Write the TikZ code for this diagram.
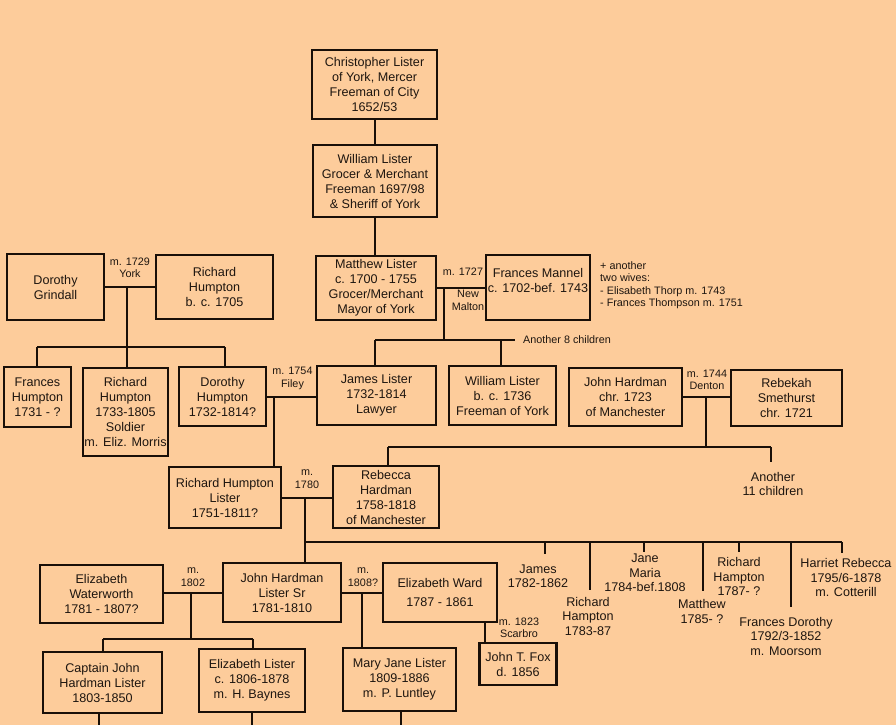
\documentclass[tikz,border=0pt]{standalone}
\usepackage{fontspec}
\setmainfont{Liberation Sans}
\definecolor{bg}{RGB}{253,204,155}
\definecolor{lc}{RGB}{25,15,8}
\definecolor{txt}{RGB}{30,22,16}
\begin{document}
\begin{tikzpicture}[x=1pt,y=-1pt,
  box/.style={draw=lc, line width=2.3pt, fill=bg, inner sep=1pt, align=center,
              font=\fontsize{12.6}{15}\selectfont, text=txt},
  lbl/.style={inner sep=0pt, align=center, font=\fontsize{10.8}{12.5}\selectfont, text=txt},
  ctxt/.style={inner sep=0pt, align=center, font=\fontsize{12.6}{14.5}\selectfont, text=txt},
  ln/.style={draw=lc, line width=2pt},
]
\fill[bg] (0,0) rectangle (896,725);
\useasboundingbox (0,0) rectangle (896,725);

% ---------- boxes ----------
\node[box, minimum width=125pt, minimum height=69pt] (chris) at (374.5,84.5)
  {Christopher Lister\\of York, Mercer\\Freeman of City\\1652/53};
\node[box, minimum width=124pt, minimum height=72pt] (will) at (375,181)
  {William Lister\\Grocer \& Merchant\\Freeman 1697/98\\\& Sheriff of York};
\node[box, minimum width=120pt, minimum height=64pt] (matt) at (376,288)
  {Matthew Lister\\c. 1700 - 1755\\Grocer/Merchant\\Mayor of York};
\node[box, minimum width=104pt, minimum height=65pt] (fran) at (538,287.5)
  {Frances Mannel\\c. 1702-bef. 1743\\\mbox{}};
\node[box, minimum width=97pt, minimum height=66pt] (dgrin) at (55.5,287)
  {Dorothy\\Grindall};
\node[box, minimum width=117pt, minimum height=64pt] (rhump) at (214.5,287)
  {Richard\\Humpton\\b. c. 1705};
\node[box, minimum width=67pt, minimum height=60pt] (fhump) at (37.5,397)
  {Frances\\Humpton\\1731 - ?};
\node[box, minimum width=85pt, minimum height=88pt, inner sep=0pt] (rh1733) at (125.5,412)
  {Richard\\Humpton\\1733-1805\\Soldier\\m. Eliz. Morris};
\node[box, minimum width=87pt, minimum height=59pt] (dhump) at (222.5,396.5)
  {Dorothy\\Humpton\\1732-1814?};
\node[box, minimum width=119pt, minimum height=59pt] (james) at (376.5,395.5)
  {James Lister\\1732-1814\\Lawyer};
\node[box, minimum width=107pt, minimum height=59pt] (wl1736) at (502.5,395.5)
  {William Lister\\b. c. 1736\\Freeman of York};
\node[box, minimum width=113pt, minimum height=58pt] (jhard) at (625.5,397)
  {John Hardman\\chr. 1723\\of Manchester};
\node[box, minimum width=111pt, minimum height=56pt] (rebekah) at (786.5,398)
  {Rebekah\\Smethurst\\chr. 1721};
\node[box, minimum width=112pt, minimum height=61pt] (rhl) at (225,497.5)
  {Richard Humpton\\Lister\\1751-1811?};
\node[box, minimum width=106pt, minimum height=62pt] (rebecca) at (386,497)
  {Rebecca\\Hardman\\1758-1818\\of Manchester};
\node[box, minimum width=123pt, minimum height=58pt] (ewater) at (101.5,594)
  {Elizabeth\\Waterworth\\1781 - 1807?};
\node[box, minimum width=118pt, minimum height=59pt] (jhls) at (282,592.5)
  {John Hardman\\Lister Sr\\1781-1810};
\node[box, minimum width=114pt, minimum height=59pt] (eward) at (440,592.5)
  {Elizabeth Ward\\[4pt]1787 - 1861};
\node[box, minimum width=119pt, minimum height=61pt] (captj) at (102.5,682.5)
  {Captain John\\Hardman Lister\\1803-1850};
\node[box, minimum width=106pt, minimum height=63pt] (elister) at (252,680.5)
  {Elizabeth Lister\\c. 1806-1878\\m. H. Baynes};
\node[box, minimum width=113pt, minimum height=63pt] (mjl) at (399.5,679.5)
  {Mary Jane Lister\\1809-1886\\m. P. Luntley};
\node[box, minimum width=77pt, minimum height=42pt] (jfox) at (518,664)
  {John T. Fox\\d. 1856};

% ---------- top line ----------
\draw[ln] (chris.south) -- (chris.south |- will.north);
\draw[ln] (will.south) -- (will.south |- matt.north);

% Matthew & Frances
\coordinate (mm) at (444,288);
\coordinate (mmbar) at (444,340);
\coordinate (mmL) at (375,340);
\coordinate (mmW) at (501,340);
\coordinate (mmR) at (515,340);
\draw[ln] (matt.east) -- (matt.east -| fran.west);
\draw[ln] (mm) -- (mmbar);
\draw[ln] (mmL) -- (mmR);
\draw[ln] (mmL) -- (mmL |- james.north);
\draw[ln] (mmW) -- (mmW |- wl1736.north);

% Grindall & Humpton
\coordinate (hj) at (127,287);
\coordinate (hbar) at (127,347);
\coordinate (hL) at (37,347);
\coordinate (hR) at (225,347);
\draw[ln] (dgrin.east) -- (rhump.west);
\draw[ln] (hj) -- (hbar);
\draw[ln] (hL) -- (hR);
\draw[ln] (hL) -- (hL |- fhump.north);
\draw[ln] (hbar) -- (hbar |- rh1733.north);
\draw[ln] (hR) -- (hR |- dhump.north);

% Dorothy Humpton & James Lister
\coordinate (dj) at (274,396.5);
\draw[ln] (dhump.east) -- (dhump.east -| james.west);
\draw[ln] (dj) -- (dj |- rhl.north);

% Hardman & Smethurst
\coordinate (hs) at (706,397);
\coordinate (hsbar) at (706,447);
\coordinate (hsL) at (388,447);
\coordinate (hsR) at (771,447);
\coordinate (hsEnd) at (771,462);
\draw[ln] (jhard.east) -- (jhard.east -| rebekah.west);
\draw[ln] (hs) -- (hsbar);
\draw[ln] (hsL) -- (hsR);
\draw[ln] (hsL) -- (hsL |- rebecca.north);
\draw[ln] (hsR) -- (hsEnd);

% Richard Humpton Lister & Rebecca Hardman
\coordinate (rr) at (305,497);
\coordinate (rrL) at (305,542);
\coordinate (rrR) at (842,542);
\draw[ln] (rhl.east) -- (rhl.east -| rebecca.west);
\draw[ln] (rr) -- (rr |- jhls.north);
\draw[ln] (rrL) -- (rrR);
\coordinate (t1) at (545,542);
\coordinate (t2) at (590,542);
\coordinate (t3) at (644,542);
\coordinate (t4) at (703,542);
\coordinate (t5) at (739,542);
\coordinate (t6) at (791,542);
\draw[ln] (t1) -- ++(0,12);
\draw[ln] (t2) -- ++(0,48);
\draw[ln] (t3) -- ++(0,10);
\draw[ln] (t4) -- ++(0,49);
\draw[ln] (t5) -- ++(0,10);
\draw[ln] (t6) -- ++(0,65);
\draw[ln] (rrR) -- ++(0,11);

% Waterworth & John Hardman Lister Sr
\coordinate (wj) at (191,593);
\coordinate (wjbar) at (191,639);
\coordinate (wjL) at (103,639);
\coordinate (wjR) at (253,639);
\draw[ln] (ewater.east |- wj) -- (jhls.west |- wj);
\draw[ln] (wj) -- (wjbar);
\draw[ln] (wjL) -- (wjR);
\draw[ln] (wjL) -- (wjL |- captj.north);
\draw[ln] (wjR) -- (wjR |- elister.north);

% John Hardman Lister Sr & Elizabeth Ward
\coordinate (we) at (362,592.5);
\draw[ln] (jhls.east) -- (eward.west);
\draw[ln] (we) -- (we |- mjl.north);

% Elizabeth Ward & John T. Fox
\coordinate (fx) at (485,622);
\draw[ln] (fx |- eward.south) -- (fx |- jfox.north);

% lines leaving the bottom
\coordinate (cb) at (99,725);
\coordinate (eb) at (252,725);
\coordinate (mb) at (401,725);
\draw[ln] (cb |- captj.south) -- (cb);
\draw[ln] (eb |- elister.south) -- (eb);
\draw[ln] (mb |- mjl.south) -- (mb);

% ---------- labels ----------
\node[lbl] (l1729) at (130,268) {m. 1729\\York};
\node[lbl] (l1727) at (463,272) {m. 1727};
\node[lbl] (lmalton) at (468,300.5) {New\\Malton};
\node[lbl, align=left, anchor=west] (wives) at (600,285)
  {+ another\\two wives:\\- Elisabeth Thorp m. 1743\\- Frances Thompson m. 1751};
\node[lbl, anchor=west] (l8) at (523,340) {Another 8 children};
\node[lbl] (l1754) at (292.5,378.5) {m. 1754\\Filey};
\node[lbl] (l1744) at (707,380) {m. 1744\\Denton};
\node[ctxt] (l11) at (773,484) {Another\\11 children};
\node[lbl] (l1780) at (307,479) {m.\\1780};
\node[lbl] (l1802) at (193,577) {m.\\1802};
\node[lbl] (l1808) at (363,577) {m.\\1808?};
\node[lbl] (l1823) at (519,628) {m. 1823\\Scarbro};

% children of Richard Humpton Lister & Rebecca
\node[ctxt] (cjames) at (538,576) {James\\1782-1862};
\node[ctxt] (crh83) at (588,616) {Richard\\Hampton\\1783-87};
\node[ctxt] (cjane) at (645,573) {Jane\\Maria\\1784-bef.1808};
\node[ctxt] (cmatt) at (702,611.5) {Matthew\\1785- ?};
\node[ctxt] (crh87) at (739,576.5) {Richard\\Hampton\\1787- ?};
\node[ctxt] (cfran) at (786,636) {Frances Dorothy\\1792/3-1852\\m. Moorsom};
\node[ctxt] (char) at (846,577.5) {Harriet Rebecca\\1795/6-1878\\m. Cotterill};
\end{tikzpicture}
\end{document}
